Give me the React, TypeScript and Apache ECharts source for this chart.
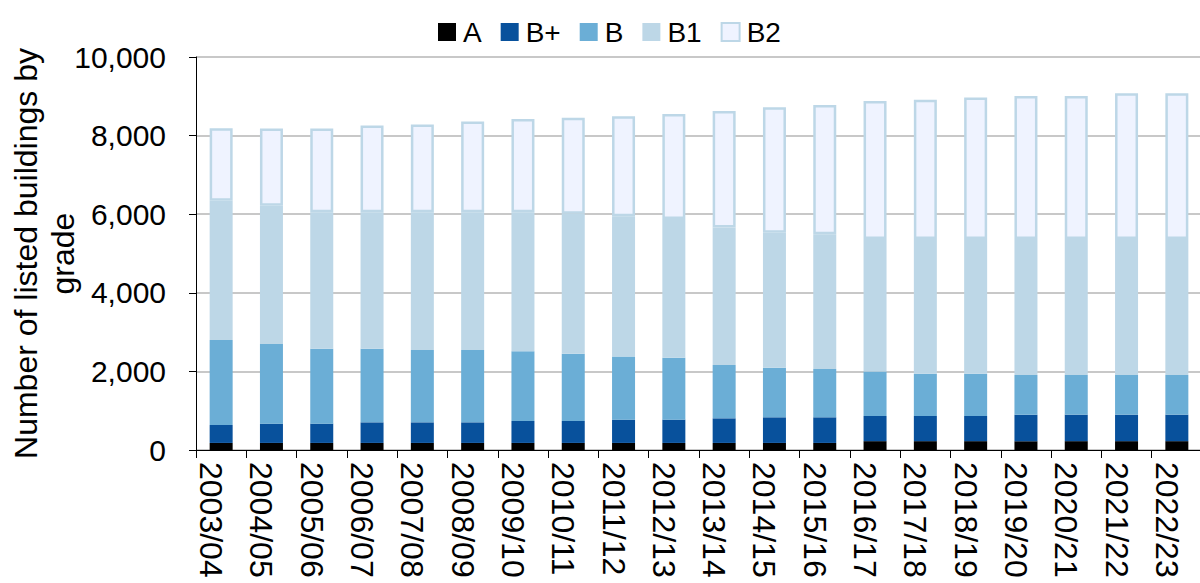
import React, { useEffect, useRef } from "react";
import * as echarts from "echarts";

const categories = [
  "2003/04", "2004/05", "2005/06", "2006/07", "2007/08", "2008/09", "2009/10",
  "2010/11", "2011/12", "2012/13", "2013/14", "2014/15", "2015/16", "2016/17",
  "2017/18", "2018/19", "2019/20", "2020/21", "2021/22", "2022/23",
];

const gradeA = [180, 180, 180, 180, 180, 180, 180, 180, 180, 180, 180, 180, 180, 225, 225, 225, 225, 225, 225, 225];
const gradeBPlus = [456, 490, 490, 524, 524, 524, 558, 558, 592, 592, 626, 652, 652, 640, 640, 640, 675, 675, 675, 675];
const gradeB = [2164, 2027, 1908, 1874, 1841, 1841, 1772, 1712, 1610, 1578, 1357, 1263, 1228, 1130, 1075, 1075, 1010, 1010, 1010, 1010];
const gradeB1 = [3545, 3515, 3472, 3472, 3505, 3505, 3540, 3560, 3568, 3530, 3497, 3430, 3430, 3375, 3430, 3430, 3460, 3460, 3460, 3460];
const gradeB2 = [1840, 1970, 2130, 2210, 2235, 2310, 2370, 2445, 2540, 2670, 2965, 3195, 3290, 3510, 3545, 3600, 3635, 3635, 3705, 3705];

const yTicks = { min: 0, max: 10000, interval: 2000 };

const FONT = "Liberation Sans, Arial, sans-serif";

export default function App() {
  const ref = useRef<HTMLDivElement>(null);
  useEffect(() => {
    if (!ref.current) return;
    const chart = echarts.init(ref.current, null, { renderer: "svg" });
    const mk = (name: string, data: number[], color: string, extra: any = {}) => ({
      name,
      type: "bar",
      stack: "total",
      data,
      barWidth: 23,
      itemStyle: { color, ...extra },
    });
    chart.setOption({
      animation: false,
      textStyle: { fontFamily: FONT },
      legend: {
        top: 13,
        left: 433,
        itemWidth: 18,
        itemHeight: 18,
        itemGap: 19,
        icon: "rect",
        textStyle: { fontSize: 28, color: "#000", fontFamily: FONT, padding: [0, 0, 0, 2] },
        data: [
          { name: "A" },
          { name: "B+" },
          { name: "B" },
          { name: "B1" },
          { name: "B2", itemStyle: { color: "#eff3ff", borderColor: "#bdd7e7", borderWidth: 2 } },
        ],
      },
      grid: {
        left: 196,
        top: 57,
        width: 1006,
        height: 393,
        containLabel: false,
        outerBoundsMode: "none",
      },
      xAxis: {
        type: "category",
        data: categories,
        axisLine: { lineStyle: { color: "#000", width: 1 } },
        axisTick: { show: true, length: 8, lineStyle: { color: "#000" } },
        axisLabel: {
          rotate: -90,
          fontSize: 32,
          color: "#000",
          margin: 12,
          interval: 0,
          fontFamily: FONT,
          verticalAlign: "top",
          lineHeight: 20,
        },
      },
      yAxis: {
        type: "value",
        ...yTicks,
        name: "Number of listed buildings by\ngrade",
        nameLocation: "middle",
        nameGap: 115,
        nameMoveOverlap: false,
        nameRotate: 90,
        nameTextStyle: { fontSize: 32, color: "#000", fontFamily: FONT, lineHeight: 37 },
        axisLine: { show: true, lineStyle: { color: "#000", width: 1 } },
        axisTick: { show: true, length: 7, lineStyle: { color: "#000" } },
        axisLabel: {
          fontSize: 30,
          color: "#000",
          margin: 30,
          fontFamily: FONT,
          formatter: (v: number) => v.toLocaleString("en-US"),
        },
        splitLine: { lineStyle: { color: "#c8c8c8", width: 2 } },
      },
      series: [
        mk("A", gradeA, "#000000"),
        mk("B+", gradeBPlus, "#08519c"),
        mk("B", gradeB, "#6baed6"),
        mk("B1", gradeB1, "#bdd7e7"),
        mk("B2", gradeB2, "#eff3ff", { borderColor: "#bdd7e7", borderWidth: 2.5 }),
      ],
    });
    return () => chart.dispose();
  }, []);
  return (
    <div
      ref={ref}
      style={{ position: "fixed", left: 0, top: 0, width: 1200, height: 583, background: "#fff" }}
    />
  );
}
